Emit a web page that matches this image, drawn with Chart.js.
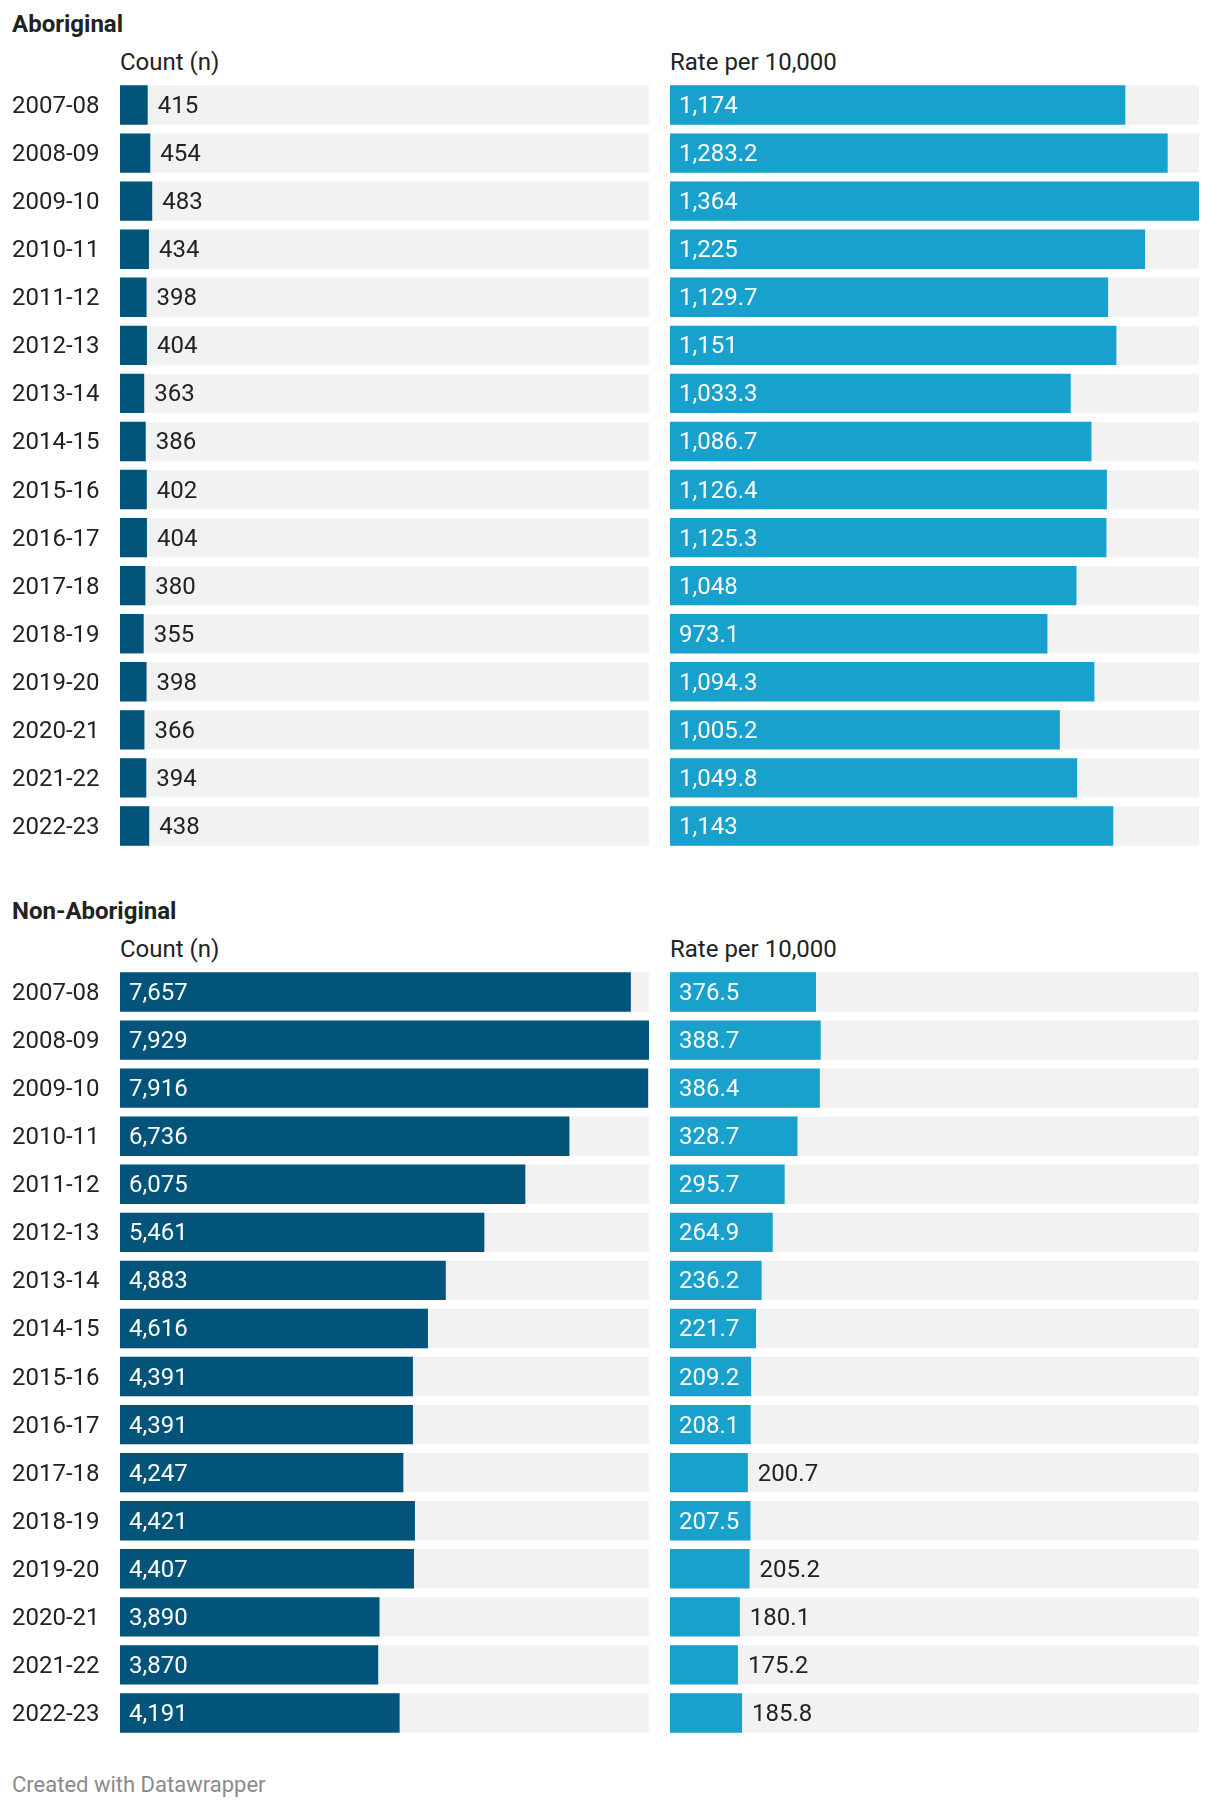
<!DOCTYPE html>
<html>
<head>
<meta charset="utf-8">
<script src="https://cdn.jsdelivr.net/npm/chart.js@4"></script>
<style>
  body { margin: 0; background: #fff; }
  #wrap { position: relative; width: 1220px; height: 1808px; font-family: Roboto, sans-serif; color: #222; }
  .txt { position: absolute; line-height: 30px; font-size: 24px; white-space: nowrap; }
  .sec { font-weight: bold; }
  .foot { color: #8a8a8a; font-size: 22px; }
  canvas { position: absolute; }
</style>
</head>
<body>
<div id="wrap">
  <div class="txt sec" style="left:12px; top:9px">Aboriginal</div>
  <div class="txt" style="left:120px; top:47px">Count (n)</div>
  <div class="txt" style="left:670px; top:47px">Rate per 10,000</div>
  <canvas id="abCount" width="649" height="769" style="left:0; top:81px"></canvas>
  <canvas id="abRate" width="529" height="769" style="left:670px; top:81px"></canvas>

  <div class="txt sec" style="left:12px; top:896px">Non-Aboriginal</div>
  <div class="txt" style="left:120px; top:934px">Count (n)</div>
  <div class="txt" style="left:670px; top:934px">Rate per 10,000</div>
  <canvas id="naCount" width="649" height="769" style="left:0; top:968px"></canvas>
  <canvas id="naRate" width="529" height="769" style="left:670px; top:968px"></canvas>

  <div class="txt foot" style="left:12px; top:1770px">Created with Datawrapper</div>
</div>
<script>
const years = ['2007-08', '2008-09', '2009-10', '2010-11', '2011-12', '2012-13', '2013-14', '2014-15',
    '2015-16', '2016-17', '2017-18', '2018-19', '2019-20', '2020-21', '2021-22', '2022-23']

const abCount = [415, 454, 483, 434, 398, 404, 363, 386, 402, 404, 380, 355, 398, 366, 394, 438]
const abRate = [1174, 1283.2, 1364, 1225, 1129.7, 1151, 1033.3, 1086.7, 1126.4, 1125.3, 1048, 973.1, 1094.3, 1005.2, 1049.8, 1143]
const naCount = [7657, 7929, 7916, 6736, 6075, 5461, 4883, 4616, 4391, 4391, 4247, 4421, 4407, 3890, 3870, 4191]
const naRate = [376.5, 388.7, 386.4, 328.7, 295.7, 264.9, 236.2, 221.7, 209.2, 208.1, 200.7, 207.5, 205.2, 180.1, 175.2, 185.8]

const countMax = Math.max(...abCount, ...naCount)
const rateMax = Math.max(...abRate, ...naRate)

const darkBlue = '#03547b'
const lightBlue = '#18a1cd'
const track = '#f2f2f2'

function fmt(v) {
    const parts = String(v).split('.')
    parts[0] = parts[0].replace(/\B(?=(\d{3})+(?!\d))/g, ',')
    return parts.join('.')
}

// year labels on the category axis + value labels (inside in white when they fit)
const rowLabels = {
    id: 'rowLabels',
    afterDatasetsDraw(chart) {
        const ctx = chart.ctx
        const meta = chart.getDatasetMeta(0)
        const vals = chart.data.datasets[0].data
        const yScale = chart.scales.y
        ctx.save()
        ctx.font = '24px Roboto'
        ctx.textBaseline = 'middle'
        ctx.textAlign = 'left'
        if (yScale.options.display) {
            ctx.fillStyle = '#222'
            chart.data.labels.forEach((lab, i) => {
                ctx.fillText(lab, yScale.left, yScale.getPixelForValue(i) + 2)
            })
        }
        meta.data.forEach((bar, i) => {
            const w = bar.x - bar.base
            if (w >= 80) {
                ctx.fillStyle = '#fff'
                ctx.fillText(fmt(vals[i]), bar.base + 9, bar.y + 2)
            } else {
                ctx.fillStyle = '#222'
                ctx.fillText(fmt(vals[i]), bar.x + 10, bar.y + 2)
            }
        })
        ctx.restore()
    }
}

function barPanel(id, values, max, color, showYears) {
    new Chart(document.getElementById(id), {
        type: 'bar',
        data: {
            labels: years,
            datasets: [
                {
                    data: values,
                    backgroundColor: color,
                    order: 0
                },
                {
                    data: years.map(() => max),
                    backgroundColor: track,
                    order: 1
                }
            ]
        },
        options: {
            indexAxis: 'y',
            responsive: false,
            animation: false,
            layout: { padding: { left: showYears ? 12 : 0, right: 0, top: 0, bottom: 0 } },
            datasets: {
                bar: {
                    grouped: false,
                    barPercentage: 0.82,
                    categoryPercentage: 1,
                    borderWidth: 0
                }
            },
            plugins: {
                legend: { display: false },
                tooltip: { enabled: false },
                title: { display: false }
            },
            scales: {
                x: {
                    display: false,
                    min: 0,
                    max: max
                },
                y: {
                    display: showYears,
                    grid: { display: false },
                    border: { display: false },
                    ticks: { display: false },
                    afterFit(scale) {
                        if (!showYears) return
                        scale.width = 108
                        scale.paddingTop = 0
                        scale.paddingBottom = 0
                    }
                }
            }
        },
        plugins: [rowLabels]
    })
}

barPanel('abCount', abCount, countMax, darkBlue, true)
barPanel('abRate', abRate, rateMax, lightBlue, false)
barPanel('naCount', naCount, countMax, darkBlue, true)
barPanel('naRate', naRate, rateMax, lightBlue, false)
</script>
</body>
</html>
